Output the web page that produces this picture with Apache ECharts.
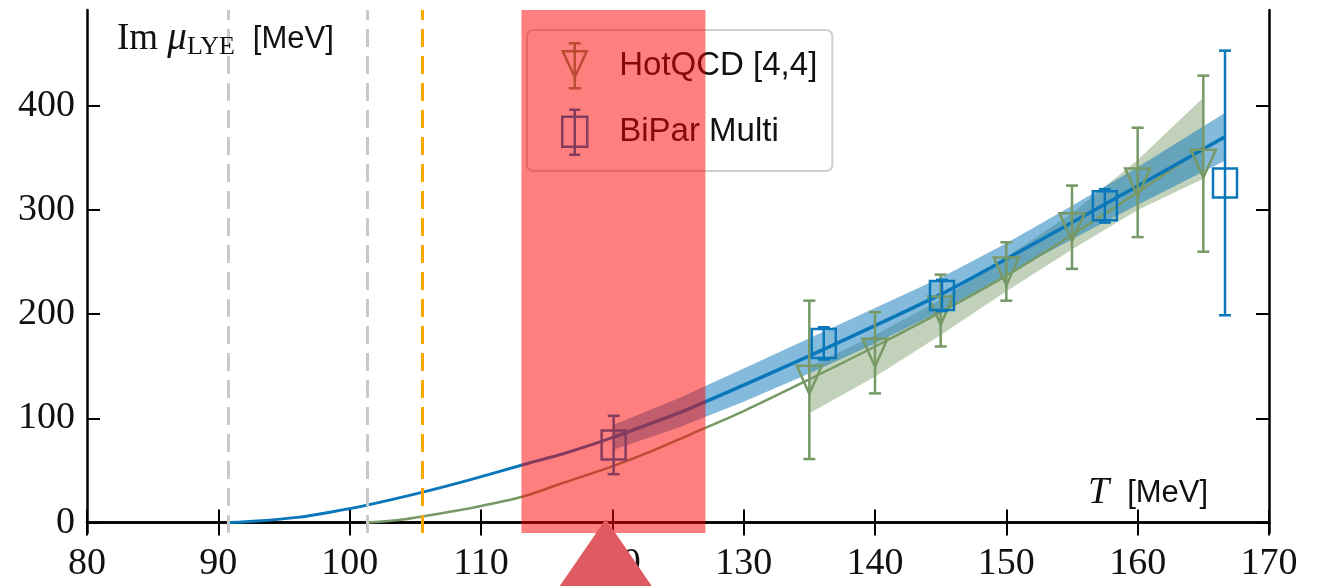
<!DOCTYPE html>
<html>
<head>
<meta charset="utf-8">
<script src="https://cdn.jsdelivr.net/npm/echarts@6/dist/echarts.min.js"></script>
<style>
  html, body { margin: 0; padding: 0; background: #ffffff; }
  #chart { width: 1327px; height: 586px; }
</style>
</head>
<body>
<div id="chart"></div>
<script>
// ---- data ----------------------------------------------------------
const yTickValues = [0, 100, 200, 300, 400];

// HotQCD [4,4] lattice estimates
const hotqcdT   = [135, 140, 145, 150, 155, 160, 165];
const hotqcdMu  = [137, 163, 203.5, 241, 283.5, 326.5, 344.5];
const hotqcdErr = [76, 39, 34.5, 28, 40, 52.5, 84.5];

// BiPar Multi estimates
const biparT   = [120.1, 136.1, 145.1, 157.5, 166.65];
const biparMu  = [74.5, 172, 218, 304, 326];
const biparErr = [28, 15.5, 15, 16, 127];

// BiPar scaling curve, extrapolated part and fitted part
const blueExtT  = [90.8, 93, 96, 98.5, 101.4, 105.5, 109, 113.2, 116.5, 120.1];
const blueExtMu = [0, 1.5, 5, 10, 17, 29, 40.5, 55.5, 67, 82];
const blueFitT  = [120.1, 125, 130, 135, 140, 145, 150, 155, 160, 166.6];
const blueFitMu = [82, 105, 132, 160, 189, 219, 253, 288, 323, 370];
const blueBandHalf = [12, 14, 16, 17, 17, 16, 15, 16, 18, 23];

// HotQCD scaling curve and its band
const greenT  = [101.35, 104, 107, 110, 113.2, 116, 120, 123, 126, 130, 135, 140, 145, 150, 155, 160, 165];
const greenMu = [0, 3, 9, 16, 25, 37, 54, 68.5, 85, 107, 137.5, 169, 202, 237, 276, 317, 360];
const greenBandT    = [135, 140, 145, 150, 155, 160, 165];
const greenBandLow  = [105, 140, 180, 222, 262, 300, 330];
const greenBandHigh = [150, 180, 214, 255, 297, 348, 408];

// reference temperatures (dashed verticals)
const greyLinesT = [90.78, 101.35];
const orangeLineT = 105.51;

// highlighted temperature window and its pointer
const highlightT = [113.08, 127.09];
const pointerT = 119.5;

// ---- styling -------------------------------------------------------
const BLUE = '#0a77bb';
const GREEN = '#779966';
const SERIF = 'Liberation Serif';
const SANS = 'Liberation Sans';

function bandSeries(name, T, low, high, fill, z) {
  return {
    type: 'custom', name: name, z: z, silent: true,
    data: T.map((t, i) => [t, low[i], high[i]]),
    encode: { x: 0, y: [1, 2] },
    renderItem(params, api) {
      if (params.dataIndexInside !== 0) return null;
      const n = params.dataInsideLength;
      const top = [], bot = [];
      for (let i = 0; i < n; i++) {
        const t = api.value(0, i);
        top.push(api.coord([t, api.value(2, i)]));
        bot.push(api.coord([t, api.value(1, i)]));
      }
      return {
        type: 'polygon',
        shape: { points: top.concat(bot.reverse()) },
        style: { fill: fill, stroke: null }
      };
    }
  };
}

function errorBarSeries(name, T, mu, err, color, marker) {
  const capW = 12, w = marker === 'tri' ? 25 : 24, h = marker === 'tri' ? 28 : 29;
  return {
    type: 'custom', name: name, z: 6,
    data: T.map((t, i) => [t, mu[i], mu[i] - err[i], mu[i] + err[i]]),
    encode: { x: 0, y: [1, 2, 3] },
    renderItem(params, api) {
      const t = api.value(0);
      const c = api.coord([t, api.value(1)]);
      const lo = api.coord([t, api.value(2)]);
      const hi = api.coord([t, api.value(3)]);
      const st = { stroke: color, lineWidth: 2.5, fill: null };
      const kids = [
        { type: 'line', shape: { x1: c[0], y1: lo[1], x2: c[0], y2: hi[1] }, style: st },
        { type: 'line', shape: { x1: c[0] - capW / 2, y1: lo[1], x2: c[0] + capW / 2, y2: lo[1] }, style: st },
        { type: 'line', shape: { x1: c[0] - capW / 2, y1: hi[1], x2: c[0] + capW / 2, y2: hi[1] }, style: st }
      ];
      if (marker === 'tri') {
        kids.push({ type: 'polygon', shape: { points: [[c[0] - w / 2, c[1] - h / 2], [c[0] + w / 2, c[1] - h / 2], [c[0], c[1] + h / 2]] }, style: st });
      } else {
        kids.push({ type: 'rect', shape: { x: c[0] - w / 2, y: c[1] - h / 2, width: w, height: h }, style: st });
      }
      return { type: 'group', children: kids };
    }
  };
}

function pairs(T, v) { return T.map((t, i) => [t, v[i]]); }

const axisLineStyle = { color: '#000', width: 2.5 };
const tickStyle = { color: '#000', width: 2 };
const plain = { fontWeight: 'normal', color: '#111' };

const chart = echarts.init(document.getElementById('chart'), null, { renderer: 'canvas' });

const option = {
  animation: false,
  backgroundColor: '#ffffff',
  grid: { left: 87, right: 58, top: 10, bottom: 53 },
  title: [
    {
      left: 117, top: 18, padding: 0,
      text: '{a|Im }{b|μ}{c|LYE}{d|[MeV]}',
      textStyle: {
        fontWeight: 'normal',
        rich: {
          a: Object.assign({ fontFamily: SERIF, fontSize: 37 }, plain),
          b: Object.assign({ fontFamily: SERIF, fontStyle: 'italic', fontSize: 39 }, plain),
          c: Object.assign({ fontFamily: SERIF, fontSize: 26, padding: [16, 0, 0, 0] }, plain),
          d: Object.assign({ fontFamily: SANS, fontSize: 31, padding: [0, 0, 0, 18] }, plain)
        }
      }
    },
    {
      left: 1088, top: 474, padding: 0,
      text: '{t|T}{u|[MeV]}',
      textStyle: {
        fontWeight: 'normal',
        rich: {
          t: Object.assign({ fontFamily: SERIF, fontStyle: 'italic', fontSize: 38 }, plain),
          u: Object.assign({ fontFamily: SANS, fontSize: 31, padding: [0, 0, 0, 18] }, plain)
        }
      }
    }
  ],
  legend: {
    orient: 'vertical',
    left: 527, top: 30,
    padding: [12, 15, 15, 34],
    itemGap: 19,
    itemWidth: 25, itemHeight: 45,
    backgroundColor: 'rgba(255,255,255,0.8)',
    borderColor: '#cfcfcf', borderWidth: 2, borderRadius: 6,
    textStyle: { fontFamily: SANS, fontSize: 33, color: '#111', padding: [0, 0, 0, 27] },
    selectedMode: false,
    data: [
      {
        name: 'HotQCD [4,4]',
        icon: 'path://M6,0L18,0M12,0L12,45M6,45L18,45M0,8L24,8L12,34Z',
        itemStyle: { color: 'transparent', borderColor: GREEN, borderWidth: 2.5 }
      },
      {
        name: 'BiPar Multi',
        icon: 'path://M7,0L18,0M12.5,0L12.5,45M7,45L18,45M0,7L25,7L25,37L0,37Z',
        itemStyle: { color: 'transparent', borderColor: BLUE, borderWidth: 2.5 }
      }
    ]
  },
  xAxis: [
    {
      type: 'value', min: 80, max: 170, interval: 10,
      axisLine: { lineStyle: axisLineStyle },
      axisTick: { inside: true, length: 13, lineStyle: tickStyle },
      axisLabel: { fontFamily: SERIF, fontSize: 38, color: '#111', margin: 12 },
      splitLine: { show: false }
    },
    {
      type: 'value', position: 'top', min: 80, max: 170, interval: 10,
      axisLine: { lineStyle: axisLineStyle },
      axisTick: { inside: true, length: 13, lineStyle: tickStyle },
      axisLabel: { show: false },
      splitLine: { show: false }
    }
  ],
  yAxis: [
    {
      type: 'value', min: -10, max: 492,
      axisLine: { lineStyle: axisLineStyle },
      axisTick: { inside: true, length: 13, lineStyle: tickStyle, customValues: yTickValues },
      axisLabel: { fontFamily: SERIF, fontSize: 38, color: '#111', margin: 12, customValues: yTickValues },
      splitLine: { show: false }
    },
    {
      type: 'value', position: 'right', min: -10, max: 492,
      axisLine: { lineStyle: axisLineStyle },
      axisTick: { inside: true, length: 13, lineStyle: tickStyle, customValues: yTickValues },
      axisLabel: { show: false },
      splitLine: { show: false }
    }
  ],
  series: [
    // reference temperatures
    {
      type: 'line', name: 'refs', data: [], silent: true, z: 1,
      markLine: {
        silent: true, symbol: ['none', 'none'], label: { show: false },
        lineStyle: { type: [18, 9], width: 3, color: '#c9c9c9' },
        data: [
          { xAxis: greyLinesT[0] },
          { xAxis: greyLinesT[1] },
          { xAxis: orangeLineT, lineStyle: { color: '#ffa500', type: [18, 9], width: 3 } }
        ]
      }
    },
    bandSeries('HotQCD band', greenBandT, greenBandLow, greenBandHigh, 'rgba(119,153,102,0.45)', 2),
    bandSeries('BiPar band', blueFitT,
      blueFitMu.map((v, i) => v - blueBandHalf[i]),
      blueFitMu.map((v, i) => v + blueBandHalf[i]),
      'rgba(10,119,187,0.5)', 3),
    {
      type: 'line', name: 'HotQCD curve', data: pairs(greenT, greenMu), smooth: 0.3,
      symbol: 'none', z: 4, lineStyle: { color: GREEN, width: 2.5 }
    },
    {
      type: 'line', name: 'BiPar curve ext', data: pairs(blueExtT, blueExtMu), smooth: 0.3,
      symbol: 'none', z: 4, lineStyle: { color: BLUE, width: 3 }
    },
    {
      type: 'line', name: 'BiPar curve fit', data: pairs(blueFitT, blueFitMu), smooth: 0.3,
      symbol: 'none', z: 5, lineStyle: { color: BLUE, width: 3.5 }
    },
    errorBarSeries('HotQCD [4,4]', hotqcdT, hotqcdMu, hotqcdErr, GREEN, 'tri'),
    errorBarSeries('BiPar Multi', biparT, biparMu, biparErr, BLUE, 'sq'),
    // highlighted temperature window, drawn above everything in the plot
    {
      type: 'custom', name: 'window', z: 10, silent: true,
      data: [[highlightT[0], highlightT[1]]],
      encode: { x: [0, 1] },
      renderItem(params, api) {
        const a = api.coord([api.value(0), 492]);
        const b = api.coord([api.value(1), -10]);
        return {
          type: 'rect',
          shape: { x: a[0], y: a[1], width: b[0] - a[0], height: b[1] - a[1] },
          style: { fill: 'rgba(255,0,0,0.5)' }
        };
      }
    }
  ]
};

chart.setOption(option);

// pointer triangle under the highlighted window
const px = chart.convertToPixel({ xAxisIndex: 0 }, pointerT);
const apexY = chart.convertToPixel({ yAxisIndex: 0 }, 3.5);
chart.setOption({
  graphic: [{
    type: 'polygon', z: 100, silent: true,
    shape: { points: [[px, apexY], [px - 46, 586], [px + 46, 586]] },
    style: { fill: '#e05a61' }
  }]
});
</script>
</body>
</html>
